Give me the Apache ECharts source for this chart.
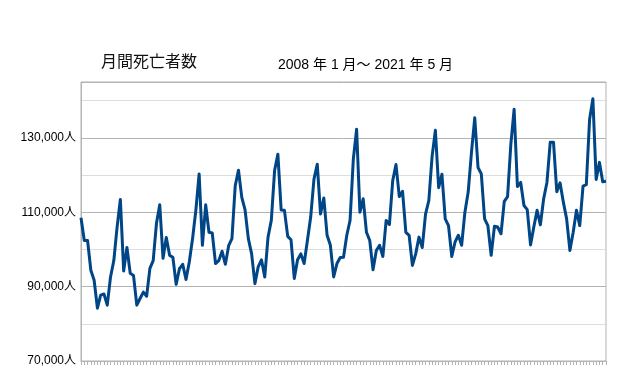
<!DOCTYPE html>
<html>
<head>
<meta charset="utf-8">
<style>
  html, body { margin: 0; padding: 0; background: #fff; }
  #chart { width: 618px; height: 376px; }
</style>
<script src="https://cdn.jsdelivr.net/npm/echarts@6/dist/echarts.min.js"></script>
</head>
<body>
<div id="chart"></div>
<script>
// Monthly deaths, Jan 2008 - May 2021 (thousands)
const years = [2008, 2009, 2010, 2011, 2012, 2013, 2014, 2015, 2016, 2017, 2018, 2019, 2020, 2021];
const deaths2008 = [108.5, 102.4, 102.4, 94.4, 91.7, 84.2, 87.7, 88.0, 85.0, 92.6, 97.0, 106.0];
const deaths2009 = [113.4, 94.2, 100.5, 93.6, 93.0, 85.0, 86.8, 88.5, 87.4, 94.9, 97.0, 107.0];
const deaths2010 = [112.0, 97.6, 103.2, 98.4, 97.9, 90.6, 94.8, 96.0, 91.9, 96.6, 102.9, 110.5];
const deaths2011 = [120.3, 101.1, 112.0, 104.6, 104.4, 96.2, 97.0, 99.5, 96.0, 101.0, 102.9, 117.1];
const deaths2012 = [121.3, 114.0, 110.6, 102.9, 98.8, 90.8, 95.3, 97.2, 92.6, 103.3, 107.8, 121.2];
const deaths2013 = [125.6, 110.6, 110.5, 103.5, 102.6, 92.2, 97.2, 98.8, 96.2, 102.4, 108.7, 118.9];
const deaths2014 = [122.9, 109.5, 113.8, 103.8, 101.1, 92.6, 96.2, 97.8, 97.9, 103.8, 107.8, 124.3];
const deaths2015 = [132.3, 110.0, 113.6, 104.6, 102.4, 94.5, 99.7, 101.1, 98.1, 107.8, 106.7, 118.5];
const deaths2016 = [122.8, 114.2, 115.6, 104.6, 103.8, 95.7, 98.8, 103.3, 100.5, 109.5, 113.1, 125.0];
const deaths2017 = [132.0, 116.6, 120.2, 108.2, 106.4, 98.1, 102.0, 103.8, 101.1, 110.0, 115.4, 126.1];
const deaths2018 = [135.4, 122.0, 120.3, 108.2, 106.4, 98.4, 106.2, 106.0, 104.2, 112.9, 114.2, 128.3];
const deaths2019 = [137.7, 116.9, 118.0, 111.8, 110.7, 101.2, 106.0, 110.5, 106.6, 113.6, 118.0, 128.8];
const deaths2020 = [128.8, 115.5, 117.9, 112.7, 108.2, 99.7, 104.6, 110.5, 106.4, 117.0, 117.4, 135.0];
const deaths2021 = [140.5, 118.8, 123.4, 118.2, 118.3];

const yTickValues = [70000, 90000, 110000, 130000];

const yearly = [deaths2008, deaths2009, deaths2010, deaths2011, deaths2012, deaths2013, deaths2014,
                deaths2015, deaths2016, deaths2017, deaths2018, deaths2019, deaths2020, deaths2021];

// month categories and flat series
const categories = [];
const values = [];
yearly.forEach((arr, yi) => {
    arr.forEach((v, mi) => {
        categories.push(years[yi] + '/' + (mi + 1));
        values.push(Math.round(v * 1000));
    });
});

const chart = echarts.init(document.getElementById('chart'));

chart.setOption({
    animation: false,
    textStyle: { fontFamily: "'Liberation Sans', 'Noto Sans CJK JP', sans-serif" },
    title: [
        {
            text: '月間死亡者数',
            left: 96,
            top: 50,
            textStyle: { fontSize: 16, fontWeight: 'normal', color: '#111' }
        },
        {
            text: '2008 年 1 月～ 2021 年 5 月',
            left: 273,
            top: 53,
            textStyle: { fontSize: 14, fontWeight: 'normal', color: '#000' }
        }
    ],
    grid: {
        left: 81,
        right: 12,
        top: 82,
        bottom: 15,
        show: true,
        borderColor: '#b3b3b3',
        borderWidth: 1
    },
    xAxis: {
        type: 'category',
        data: categories,
        boundaryGap: false,
        axisLine: { lineStyle: { color: '#b3b3b3', width: 1 } },
        axisTick: { show: true, interval: 0, length: 4, lineStyle: { color: '#b3b3b3' } },
        axisLabel: { show: false },
        splitLine: { show: false }
    },
    yAxis: {
        type: 'value',
        min: 70000,
        max: 145000,
        interval: 10000,
        axisLine: { show: true, lineStyle: { color: '#b3b3b3' } },
        axisTick: { show: false },
        axisLabel: {
            margin: 5,
            fontSize: 12,
            color: '#000',
            formatter: function (v) {
                return yTickValues.indexOf(v) >= 0 ? v.toLocaleString('en-US') + '人' : '';
            }
        },
        splitLine: { show: true, lineStyle: { color: ['#b3b3b3', '#dddddd'], width: 1 } }
    },
    series: [{
        type: 'line',
        data: values,
        symbol: 'none',
        lineStyle: { color: '#004586', width: 3, join: 'round' }
    }]
});
</script>
</body>
</html>
